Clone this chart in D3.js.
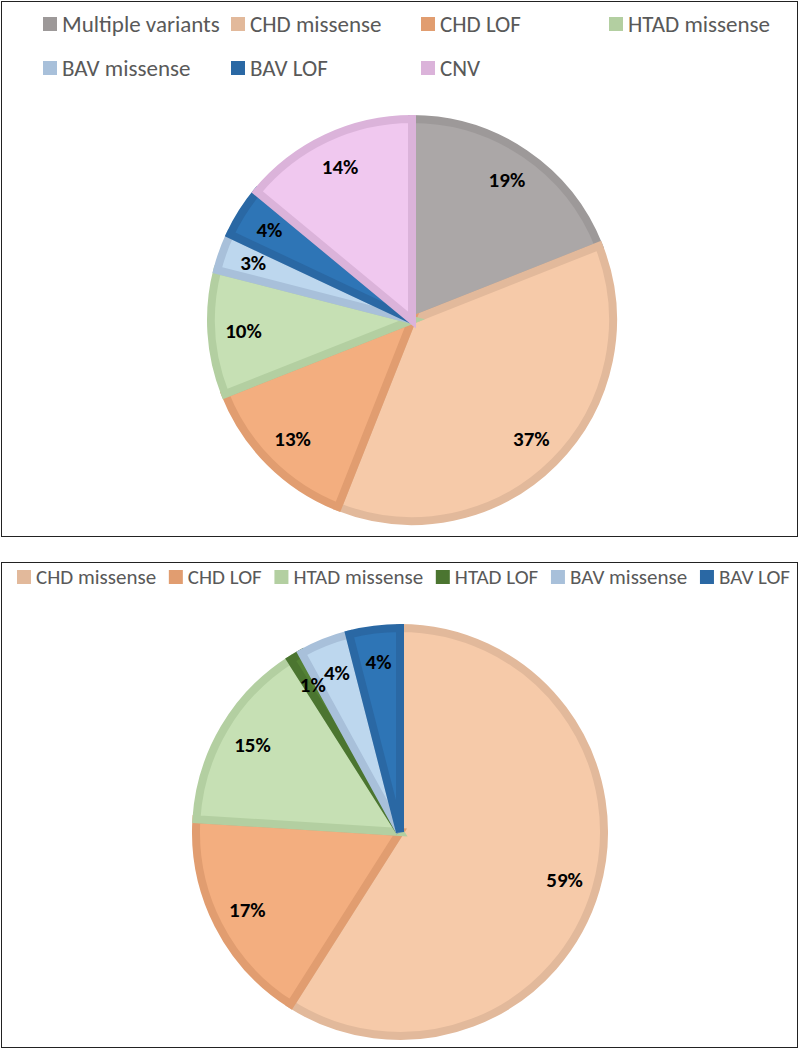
<!DOCTYPE html>
<html>
<head>
<meta charset="utf-8">
<script src="https://cdn.jsdelivr.net/npm/d3@7"></script>
<style>
  body { margin: 0; background: #fff; }
  svg { display: block; font-family: Carlito, Lato, "Open Sans", sans-serif; }
</style>
</head>
<body>
<svg id="chart" width="800" height="1050"></svg>
<script>
// top chart: all variant types
var topNames = ["Multiple variants", "CHD missense", "CHD LOF", "HTAD missense", "BAV missense", "BAV LOF", "CNV"];
var topValues = [19, 37, 13, 10, 3, 4, 14];

// bottom chart: single-gene variants only
var botNames = ["CHD missense", "CHD LOF", "HTAD missense", "HTAD LOF", "BAV missense", "BAV LOF"];
var botValues = [59, 17, 15, 1, 4, 4];

// colours per category: [fill, border]
var colors = {
  "Multiple variants": ["#aba7a7", "#9d9999"],
  "CHD missense": ["#f6caa9", "#e2b99b"],
  "CHD LOF": ["#f3ae7f", "#e19d70"],
  "HTAD missense": ["#c6e0b4", "#b3cfa1"],
  "HTAD LOF": ["#548235", "#4b7530"],
  "BAV missense": ["#bdd7ee", "#a8c0da"],
  "BAV LOF": ["#2e75b6", "#2a68a4"],
  "CNV": ["#f0c8ef", "#dbb3da"]
};

var svg = d3.select("#chart");

// panel frames
svg.append("rect").attr("x", 1.5).attr("y", 1.5).attr("width", 796).attr("height", 535)
  .attr("fill", "none").attr("stroke", "#222").attr("stroke-width", 1);
svg.append("rect").attr("x", 1.5).attr("y", 562.5).attr("width", 796).attr("height", 485)
  .attr("fill", "none").attr("stroke", "#222").attr("stroke-width", 1);

function drawPie(names, values, cx, cy, r) {
  var data = names.map(function(n, i){ return {name: n, value: values[i]}; });
  var pie = d3.pie().sort(null).value(function(d){ return d.value; });
  var arc = d3.arc().innerRadius(0).outerRadius(r);
  var labelArc = d3.arc().innerRadius(r * 0.84).outerRadius(r * 0.84);
  var g = svg.append("g").attr("transform", "translate(" + cx + "," + cy + ")");
  var arcs = pie(data);

  g.selectAll("path").data(arcs).enter().append("path")
    .attr("d", arc)
    .attr("fill", function(d){ return colors[d.data.name][0]; })
    .attr("stroke", function(d){ return colors[d.data.name][1]; })
    .attr("stroke-width", 8)
    .attr("stroke-linejoin", "miter");

  g.selectAll("text").data(arcs).enter().append("text")
    .attr("x", function(d){ return labelArc.centroid(d)[0]; })
    .attr("y", function(d){ return labelArc.centroid(d)[1]; })
    .attr("text-anchor", "middle")
    .attr("dominant-baseline", "central")
    .attr("font-size", 21)
    .attr("font-weight", "bold")
    .attr("fill", "#000")
    .text(function(d){ return d.data.value + "%"; });
}

function drawLegend(names, positions, size) {
  var g = svg.append("g");
  names.forEach(function(n, i){
    var p = positions[i];
    g.append("rect").attr("x", p[0]).attr("y", p[1] - 7).attr("width", 14).attr("height", 14)
      .attr("fill", colors[n][1]);
    g.append("text").attr("x", p[0] + 19).attr("y", p[1])
      .attr("dominant-baseline", "central")
      .attr("font-size", size).attr("fill", "#595959")
      .text(n);
  });
}

drawPie(topNames, topValues, 412, 320, 201);
drawPie(botNames, botValues, 400, 832, 204);

// top legend sits in a 4-column grid
var cols = [43, 231, 421, 609];
var rows = [24, 68];
drawLegend(topNames, topNames.map(function(n, i){ return [cols[i % 4], rows[Math.floor(i / 4)]]; }), 23);

// bottom legend flows in one row, spread to the frame width
var tmp = svg.append("text").attr("font-size", 21);
var widths = botNames.map(function(n){ tmp.text(n); return tmp.node().getComputedTextLength(); });
tmp.remove();
var gap = (790 - 17 - d3.sum(widths) - 19 * botNames.length) / (botNames.length - 1);
var bx = 17;
var botPos = botNames.map(function(n, i){
  var p = [bx, 577];
  bx += 19 + widths[i] + gap;
  return p;
});
drawLegend(botNames, botPos, 21);
</script>
</body>
</html>
